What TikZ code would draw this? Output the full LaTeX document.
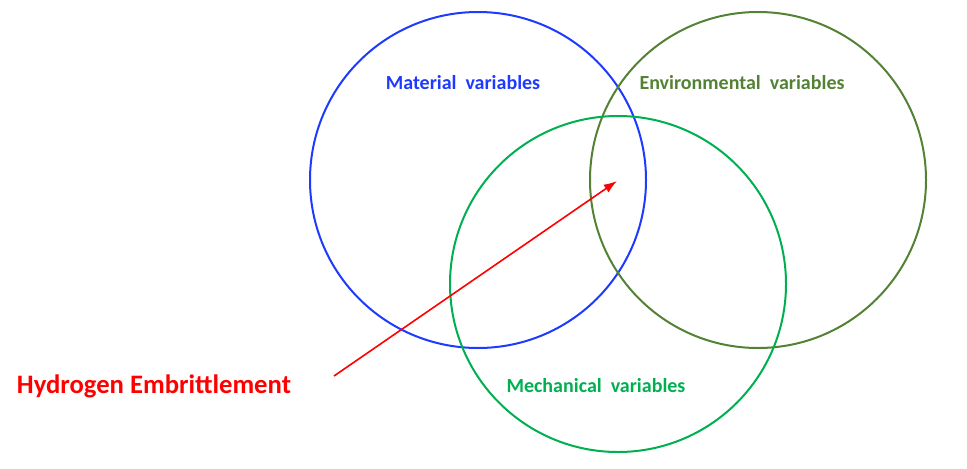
\documentclass[tikz,border=0pt]{standalone}
\usepackage{fontspec}
\setmainfont{Carlito}
\usetikzlibrary{arrows.meta}
\definecolor{matblue}{RGB}{31,58,255}
\definecolor{envgreen}{RGB}{84,130,53}
\definecolor{mechgreen}{RGB}{0,176,80}
\definecolor{hered}{RGB}{255,0,0}

\begin{document}
\begin{tikzpicture}[x=0.75pt,y=-0.75pt,
    varcircle/.style={line width=1.5pt},
    varlabel/.style={font={\fontsize{15}{18}\selectfont\bfseries\spaceskip=0.45em\relax},inner sep=0pt}]
        \useasboundingbox (0,0) rectangle (967,468);

        % Variable circles
        \draw[varcircle,matblue] (478,180) circle[radius=168];
        \draw[varcircle,envgreen] (758,180) circle[radius=168];
        \draw[varcircle,mechgreen] (618,284) circle[radius=168];

        % Labels
        \node[varlabel,text=matblue] (material) at (463,83) {Material variables};
        \node[varlabel,text=envgreen] (environmental) at (742,83) {Environmental variables};
        \node[varlabel,text=mechgreen] (mechanical) at (596,386) {Mechanical variables};
        \node[font=\fontsize{20}{24}\selectfont\bfseries,text=hered,inner sep=0pt]
            (embrittlement) at (154,386) {Hydrogen Embrittlement};

        % Pointer
        \coordinate (pointtail) at (334,376);
        \coordinate (pointtip) at (617,181);
        \draw[-{Latex[length=10pt,width=7pt]},line width=1.2pt,hered] (pointtail) -- (pointtip);
    \end{tikzpicture}
\end{document}
